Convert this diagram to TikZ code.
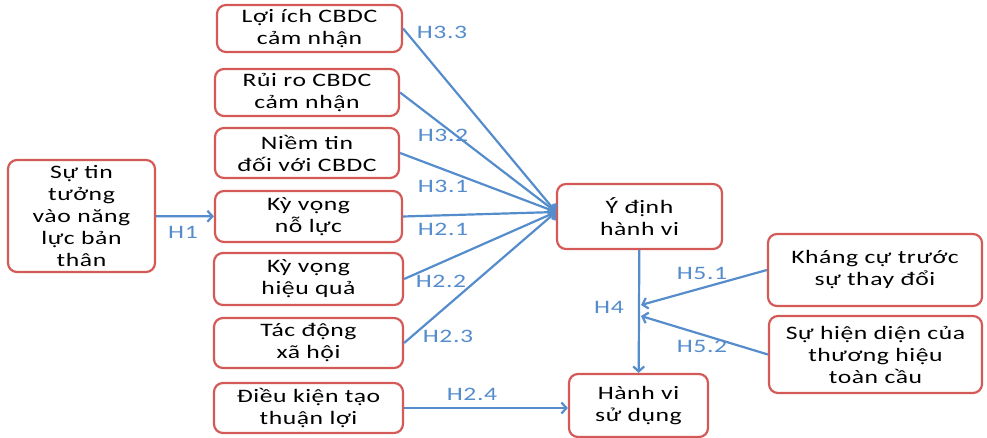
\documentclass[tikz,border=0pt]{standalone}
\usepackage{fontspec}
\setmainfont[FakeStretch=1.35,LetterSpace=3]{Carlito}
\usepackage{tikz}
\usetikzlibrary{arrows.meta}
\definecolor{boxred}{RGB}{212,90,88}
\definecolor{arrowblue}{RGB}{84,140,204}
\tikzset{factor/.style={draw=boxred, line width=2.2pt, rounded corners=9pt, align=center, inner sep=0pt, fill=white},
  link/.style={draw=arrowblue, line width=2.2pt, -{Straight Barb[length=5pt,width=11pt]}},
  hyp/.style={text=arrowblue}}

\begin{document}
\begin{tikzpicture}[x=1pt, y=-1pt, font=\fontsize{19}{22}\selectfont]
  \useasboundingbox (0, 0) rectangle (987, 438);

  \node[factor, minimum width=147, minimum height=112] at (81.5, 216) (sutin) {Sự tin\\tưởng\\vào năng\\lực bản\\thân};

  \node[factor, minimum width=185, minimum height=47] at (309.5, 28.5) (loiich) {Lợi ích CBDC\\cảm nhận};
  \node[factor, minimum width=184, minimum height=47] at (307, 92.5) (ruiro) {Rủi ro CBDC\\cảm nhận};
  \node[factor, minimum width=184, minimum height=50] at (307, 153) (niemtin) {Niềm tin\\đối với CBDC};
  \node[factor, minimum width=187, minimum height=51] at (308.5, 216.5) (nolu) {Kỳ vọng\\nỗ lực};
  \node[factor, minimum width=189, minimum height=52] at (308.5, 279) (hieuqua) {Kỳ vọng\\hiệu quả};
  \node[factor, minimum width=189, minimum height=50] at (308.5, 343) (tacdong) {Tác động\\xã hội};
  \node[factor, minimum width=189, minimum height=50] at (308.5, 408) (dieukien) {Điều kiện tạo\\thuận lợi};

  \node[factor, minimum width=165, minimum height=65] at (639.5, 216.5) (ydinh) {Ý định\\hành vi};
  \node[factor, minimum width=139, minimum height=63] at (638.5, 405.5) (hanhvi) {Hành vi\\sử dụng};

  \node[factor, minimum width=214, minimum height=72] at (875, 270) (khangcu) {Kháng cự trước\\sự thay đổi};
  \node[factor, minimum width=213, minimum height=77] at (875.5, 354.5) (hiendien) {Sự hiện diện của\\thương hiệu\\toàn cầu};

  % points d'arrivee des fleches
  \coordinate (conv) at (556, 212);
  \coordinate (mod1) at (641, 305);
  \coordinate (mod2) at (641, 316);

  \draw[link] (sutin) -- (nolu);
  \draw[link] (loiich.east) -- (conv);
  \draw[link] (ruiro.east) -- (conv);
  \draw[link] (niemtin.east) -- (conv);
  \draw[link] (nolu.east) -- (conv);
  \draw[link] (hieuqua.east) -- (conv);
  \draw[link] (tacdong.east) -- (conv);
  \draw[link] (dieukien.east) -- (dieukien.east -| hanhvi.west);
  \draw[link] (ydinh) -- (hanhvi);
  \draw[link] (khangcu.west) -- (mod1);
  \draw[link] (hiendien.west) -- (mod2);

  \node[hyp] at (183, 232) (h1) {H1};
  \node[hyp] at (442, 32) (h33) {H3.3};
  \node[hyp] at (443, 135) (h32) {H3.2};
  \node[hyp] at (443, 186) (h31) {H3.1};
  \node[hyp] at (443, 229) (h21) {H2.1};
  \node[hyp] at (441, 281) (h22) {H2.2};
  \node[hyp] at (448, 336) (h23) {H2.3};
  \node[hyp] at (472, 394) (h24) {H2.4};
  \node[hyp] at (609, 307) (h4) {H4};
  \node[hyp] at (702, 273) (h51) {H5.1};
  \node[hyp] at (702, 346) (h52) {H5.2};
\end{tikzpicture}
\end{document}
